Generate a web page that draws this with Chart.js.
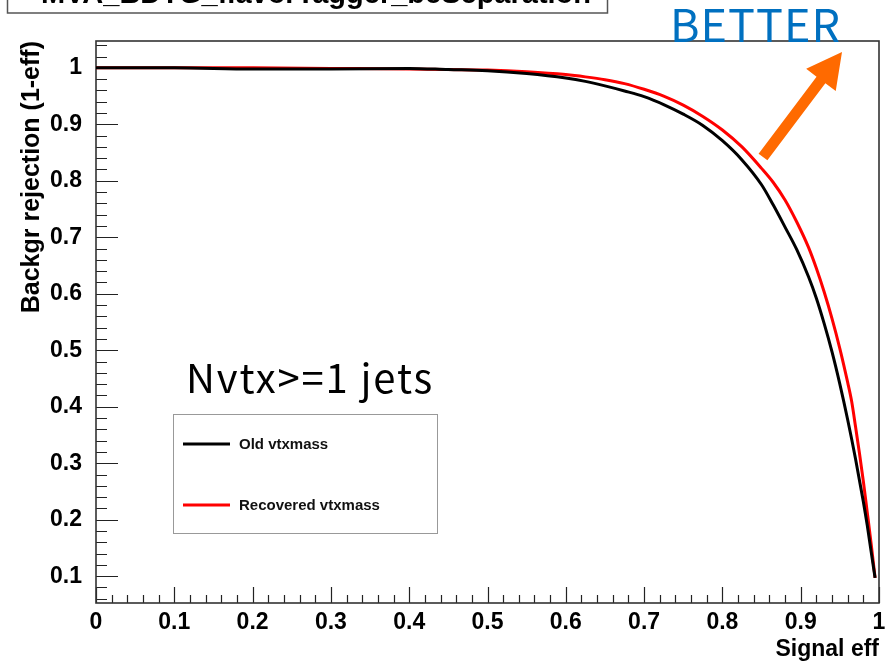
<!DOCTYPE html>
<html>
<head>
<meta charset="utf-8">
<script src="https://cdn.jsdelivr.net/npm/chart.js@4.4.1/dist/chart.umd.min.js"></script>
<style>
  html, body { margin: 0; padding: 0; background: #ffffff; }
  #wrap { width: 887px; height: 664px; position: relative; }
</style>
</head>
<body>
<div id="wrap"><canvas id="c" width="887" height="664"></canvas></div>
<script>
// ---- data ----
const seriesNames = ['Old vtxmass', 'Recovered vtxmass'];
const seriesColors = ['#000000', '#ff0000'];

const oldSignalEff = [0, 0.1, 0.2, 0.3, 0.4, 0.45, 0.5, 0.55, 0.6, 0.625, 0.65, 0.675, 0.7, 0.725, 0.75, 0.775, 0.8, 0.825, 0.85, 0.865, 0.88, 0.895, 0.91, 0.92, 0.93, 0.94, 0.95, 0.96, 0.97, 0.98, 0.985, 0.99, 0.995];
const oldRejection = [1.0, 1.0, 0.998, 0.998, 0.999, 0.997, 0.995, 0.99, 0.982, 0.976, 0.968, 0.959, 0.949, 0.935, 0.918, 0.898, 0.871, 0.837, 0.793, 0.757, 0.718, 0.678, 0.63, 0.592, 0.547, 0.497, 0.44, 0.377, 0.308, 0.232, 0.19, 0.143, 0.097];

const newSignalEff = [0, 0.1, 0.2, 0.3, 0.4, 0.5, 0.55, 0.6, 0.625, 0.65, 0.675, 0.7, 0.725, 0.75, 0.775, 0.8, 0.825, 0.85, 0.865, 0.88, 0.895, 0.91, 0.92, 0.93, 0.94, 0.95, 0.96, 0.965, 0.97, 0.975, 0.98, 0.985, 0.99, 0.995];
const newRejection = [1.0, 1.0, 1.0, 0.999, 0.998, 0.996, 0.993, 0.988, 0.984, 0.979, 0.972, 0.962, 0.95, 0.934, 0.914, 0.89, 0.86, 0.822, 0.797, 0.766, 0.727, 0.682, 0.645, 0.603, 0.556, 0.503, 0.443, 0.41, 0.365, 0.318, 0.268, 0.213, 0.157, 0.097];

const xTickValues = [0, 0.1, 0.2, 0.3, 0.4, 0.5, 0.6, 0.7, 0.8, 0.9, 1];
const xTickLabels = ['0', '0.1', '0.2', '0.3', '0.4', '0.5', '0.6', '0.7', '0.8', '0.9', '1'];
const yTickValues = [0.1, 0.2, 0.3, 0.4, 0.5, 0.6, 0.7, 0.8, 0.9, 1];
const yTickLabels = ['0.1', '0.2', '0.3', '0.4', '0.5', '0.6', '0.7', '0.8', '0.9', '1'];

const xTitle = 'Signal eff';
const yTitle = 'Backgr rejection (1-eff)';
const histTitle = 'MVA_BDTG_flavorTagger_bcSeparation';
const annotationText = 'Nvtx>=1 jets';
const arrowText = 'BETTER';

// ---- styling ----
const HELV = "'Liberation Sans', Arial, Helvetica, sans-serif";
const xRange = [0, 1];
const yRange = [0.0525, 1.0475];
const minorStep = 0.02;

function toPoints(xs, ys) { return xs.map((x, i) => ({ x: x, y: ys[i] })); }

const rootTicks = {
  id: 'rootTicks',
  beforeDatasetsDraw(chart) {
    const ctx = chart.ctx, a = chart.chartArea;
    const xs = chart.scales.x, ys = chart.scales.y;
    ctx.save();
    ctx.strokeStyle = '#222';
    ctx.lineWidth = 1.2;
    ctx.beginPath();
    const nx = Math.round((xRange[1] - xRange[0]) / minorStep);
    for (let i = 0; i <= nx; i++) {
      const v = xRange[0] + i * minorStep;
      const px = Math.round(xs.getPixelForValue(v)) + 0.5;
      const major = i % 5 === 0;
      const len = major ? 16 : 8;
      ctx.moveTo(px, a.bottom);
      ctx.lineTo(px, a.bottom - len);
    }
    for (let i = 0; i <= 60; i++) {
      const v = i * minorStep;
      if (v < yRange[0] || v > yRange[1]) continue;
      const py = Math.round(ys.getPixelForValue(v)) + 0.5;
      const major = i % 5 === 0;
      const len = major ? 22 : 11;
      ctx.moveTo(a.left, py);
      ctx.lineTo(a.left + len, py);
    }
    ctx.stroke();
    ctx.strokeStyle = '#333';
    ctx.lineWidth = 1.6;
    ctx.strokeRect(a.left, a.top, a.right - a.left, a.bottom - a.top);
    ctx.restore();
  },
  afterDraw(chart) {
    const ctx = chart.ctx;
    ctx.save();
    // histogram title box (clipped at top of the page)
    ctx.fillStyle = '#fff';
    ctx.fillRect(7, -30, 600, 43);
    ctx.strokeStyle = '#555';
    ctx.lineWidth = 1.5;
    ctx.strokeRect(7.5, -30, 600, 43);
    ctx.fillStyle = '#000';
    ctx.font = 'bold 29px ' + HELV;
    ctx.textAlign = 'center';
    ctx.textBaseline = 'alphabetic';
    ctx.fillText(histTitle, 316, 3);

    // legend box
    ctx.fillStyle = '#fff';
    ctx.fillRect(173.5, 414.5, 264, 119);
    ctx.strokeStyle = '#999';
    ctx.lineWidth = 1;
    ctx.strokeRect(173.5, 414.5, 264, 119);
    const rows = [444, 505];
    ctx.font = 'bold 15px ' + HELV;
    ctx.textAlign = 'left';
    ctx.textBaseline = 'middle';
    chart.data.datasets.forEach((ds, i) => {
      ctx.strokeStyle = ds.borderColor;
      ctx.lineWidth = 3;
      ctx.beginPath();
      ctx.moveTo(183, rows[i]);
      ctx.lineTo(230, rows[i]);
      ctx.stroke();
      ctx.fillStyle = '#111';
      ctx.fillText(ds.label, 239, rows[i] + 1);
    });

    // annotation text
    ctx.fillStyle = '#000';
    ctx.font = "40px 'Noto Sans CJK JP', 'Noto Sans', sans-serif";
    ctx.textBaseline = 'alphabetic';
    const w0 = ctx.measureText(annotationText).width;
    const ls = (248 - w0) / annotationText.length;
    ctx.letterSpacing = ls.toFixed(2) + 'px';
    ctx.fillText(annotationText, 186, 393);
    ctx.letterSpacing = '0px';

    // orange arrow
    const tip = [842, 52], tail = [763, 157];
    const dx = tip[0] - tail[0], dy = tip[1] - tail[1];
    const L = Math.hypot(dx, dy);
    const ux = dx / L, uy = dy / L, nx = -uy, ny = ux;
    const hw = 5.5, headLen = 35, headHW = 18.5;
    const bx = tip[0] - ux * headLen, by = tip[1] - uy * headLen;
    ctx.fillStyle = '#ff6a00';
    ctx.beginPath();
    ctx.moveTo(tail[0] + nx * hw, tail[1] + ny * hw);
    ctx.lineTo(bx + nx * hw, by + ny * hw);
    ctx.lineTo(bx + nx * headHW, by + ny * headHW);
    ctx.lineTo(tip[0], tip[1]);
    ctx.lineTo(bx - nx * headHW, by - ny * headHW);
    ctx.lineTo(bx - nx * hw, by - ny * hw);
    ctx.lineTo(tail[0] - nx * hw, tail[1] - ny * hw);
    ctx.closePath();
    ctx.fill();

    // BETTER
    ctx.fillStyle = '#0070c0';
    ctx.font = "45px 'Noto Sans CJK JP', 'Noto Sans', sans-serif";
    ctx.textAlign = 'left';
    ctx.textBaseline = 'alphabetic';
    const wb = ctx.measureText(arrowText).width;
    ctx.letterSpacing = ((171 - wb) / arrowText.length).toFixed(2) + 'px';
    ctx.fillText(arrowText, 670, 42);
    ctx.letterSpacing = '0px';
    ctx.restore();
  }
};

new Chart(document.getElementById('c'), {
  type: 'scatter',
  data: {
    datasets: [
      {
        label: seriesNames[0],
        data: toPoints(oldSignalEff, oldRejection),
        borderColor: seriesColors[0],
        backgroundColor: seriesColors[0],
        borderWidth: 3,
        showLine: true,
        pointRadius: 0,
        cubicInterpolationMode: 'monotone'
      },
      {
        label: seriesNames[1],
        data: toPoints(newSignalEff, newRejection),
        borderColor: seriesColors[1],
        backgroundColor: seriesColors[1],
        borderWidth: 3,
        showLine: true,
        pointRadius: 0,
        cubicInterpolationMode: 'monotone'
      }
    ]
  },
  options: {
    responsive: false,
    animation: false,
    devicePixelRatio: 1,
    layout: { padding: { top: 41, right: 8, left: 0, bottom: 0 } },
    plugins: {
      legend: { display: false },
      tooltip: { enabled: false },
      title: { display: false }
    },
    scales: {
      x: {
        type: 'linear',
        position: 'bottom',
        min: xRange[0],
        max: xRange[1],
        grid: { display: false },
        border: { display: false },
        afterBuildTicks(s) { s.ticks = xTickValues.map(v => ({ value: v })); },
        afterFit(s) { s.height = 61; },
        ticks: {
          color: '#000',
          padding: -2,
          maxRotation: 0,
          autoSkip: false,
          font: { family: HELV, size: 23, weight: 'bold' },
          callback(v) { const i = xTickValues.indexOf(v); return i >= 0 ? xTickLabels[i] : ''; }
        },
        title: {
          display: true,
          text: xTitle,
          align: 'end',
          color: '#000',
          font: { family: HELV, size: 23, weight: 'bold' },
          padding: { top: 0, bottom: 1 }
        }
      },
      y: {
        type: 'linear',
        position: 'left',
        min: yRange[0],
        max: yRange[1],
        grid: { display: false },
        border: { display: false },
        afterBuildTicks(s) { s.ticks = yTickValues.map(v => ({ value: v })); },
        afterFit(s) { s.width = 96; },
        ticks: {
          color: '#000',
          padding: 6,
          autoSkip: false,
          font: { family: HELV, size: 23, weight: 'bold' },
          callback(v) { const i = yTickValues.indexOf(v); return i >= 0 ? yTickLabels[i] : ''; }
        },
        title: {
          display: true,
          text: yTitle,
          align: 'end',
          color: '#000',
          font: { family: HELV, size: 25, weight: 'bold' },
          padding: { top: 17, bottom: 0 }
        }
      }
    }
  },
  plugins: [rootTicks]
});
</script>
</body>
</html>
